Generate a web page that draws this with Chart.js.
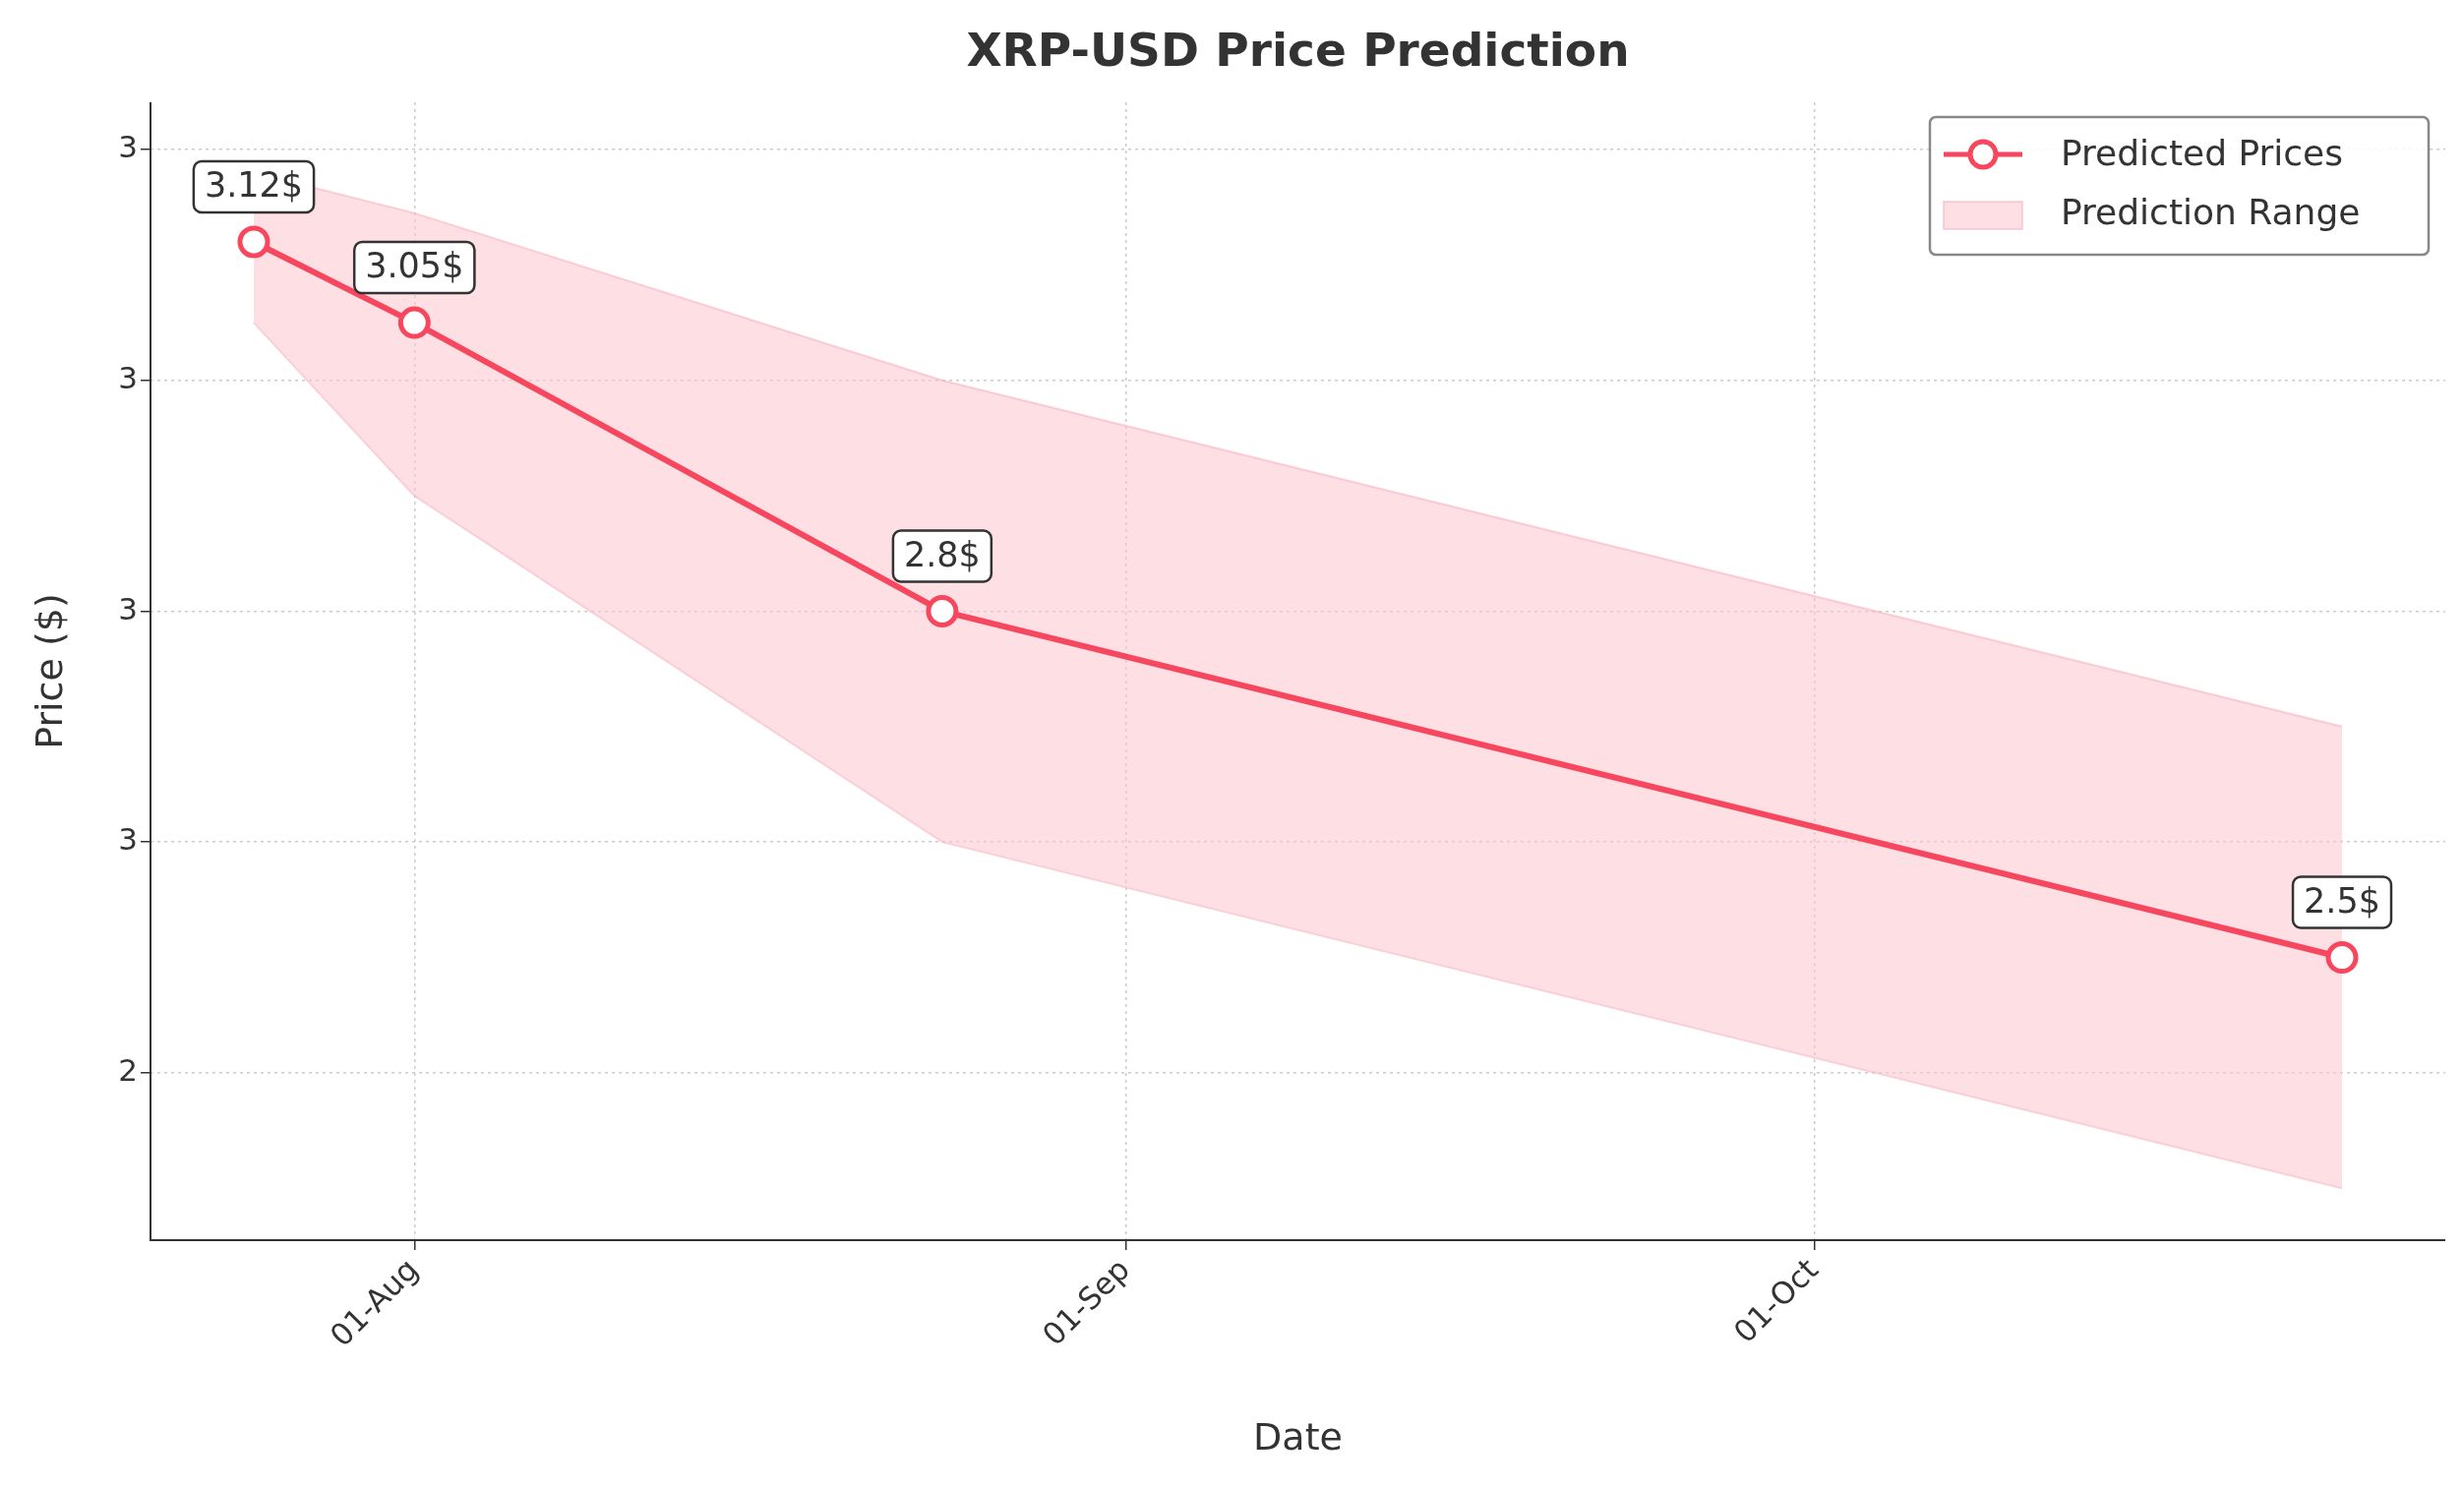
<!DOCTYPE html>
<html>
<head>
<meta charset="utf-8">
<script src="https://cdn.jsdelivr.net/npm/chart.js@4"></script>
<style>
  html, body { margin: 0; padding: 0; background: #fff; }
  #wrap { width: 2505px; height: 1513px; }
</style>
</head>
<body>
<div id="wrap"><canvas id="priceChart"></canvas></div>
<script>
// days relative to 01-Aug
const dayOffsets = [-7, 0, 23, 84];
const predicted = [3.12, 3.05, 2.8, 2.5];
const upperBound = [3.18, 3.145, 3.0, 2.70];
const lowerBound = [3.05, 2.9, 2.6, 2.30];
const priceLabels = ['3.12$', '3.05$', '2.8$', '2.5$'];
const xTickDays = [0, 31, 61];
const xTickLabels = ['01-Aug', '01-Sep', '01-Oct'];
const yTickValues = [2.4, 2.6, 2.8, 3.0, 3.2];

const LINE = '#f7475f';
const FILL = 'rgba(252, 196, 206, 0.55)';
const TEXT = '#333333';

const extras = {
    id: 'extras',
    afterDraw(chart) {
        const ctx = chart.ctx;
        const area = chart.chartArea;
        const xs = chart.scales.x, ys = chart.scales.y;

        ctx.save();
        ctx.fillStyle = TEXT;
        ctx.font = 'bold 47px "DejaVu Sans"';
        ctx.textAlign = 'center';
        ctx.textBaseline = 'middle';
        ctx.fillText('XRP-USD Price Prediction', (area.left + area.right) / 2, 55);

        // axis titles
        ctx.font = '38px "DejaVu Sans"';
        ctx.fillText('Date', (area.left + area.right) / 2, 1464);
        ctx.save();
        ctx.translate(53, (area.top + area.bottom) / 2);
        ctx.rotate(-Math.PI / 2);
        ctx.fillText('Price ($)', 0, 0);
        ctx.restore();

        // spines
        ctx.strokeStyle = TEXT;
        ctx.lineWidth = 2;
        ctx.beginPath();
        ctx.moveTo(area.left, area.top);
        ctx.lineTo(area.left, area.bottom);
        ctx.lineTo(area.right, area.bottom);
        ctx.stroke();

        // value labels
        ctx.font = '35px "DejaVu Sans"';
        predicted.forEach((v, i) => {
            const px = xs.getPixelForValue(dayOffsets[i]);
            const py = ys.getPixelForValue(v);
            const w = ctx.measureText(priceLabels[i]).width + 22;
            const h = 52;
            const cy = py - 56;
            ctx.fillStyle = '#fff';
            ctx.strokeStyle = TEXT;
            ctx.lineWidth = 2.5;
            ctx.beginPath();
            ctx.roundRect(px - w / 2, cy - h / 2, w, h, 8);
            ctx.fill();
            ctx.stroke();
            ctx.fillStyle = TEXT;
            ctx.fillText(priceLabels[i], px, cy + 1);
        });

        // legend
        const lx = 1962, ly = 119, lw = 507, lh = 140;
        ctx.fillStyle = 'rgba(255,255,255,0.85)';
        ctx.strokeStyle = '#888';
        ctx.lineWidth = 2.5;
        ctx.beginPath();
        ctx.roundRect(lx, ly, lw, lh, 6);
        ctx.fill();
        ctx.stroke();
        ctx.strokeStyle = LINE;
        ctx.lineWidth = 5;
        ctx.beginPath();
        ctx.moveTo(lx + 14, ly + 38);
        ctx.lineTo(lx + 94, ly + 38);
        ctx.stroke();
        ctx.fillStyle = '#fff';
        ctx.beginPath();
        ctx.arc(lx + 54, ly + 38, 13, 0, Math.PI * 2);
        ctx.fill();
        ctx.stroke();
        ctx.fillStyle = FILL;
        ctx.fillRect(lx + 14, ly + 86, 80, 28);
        ctx.strokeStyle = 'rgba(245,170,185,0.6)';
        ctx.lineWidth = 1.5;
        ctx.strokeRect(lx + 14, ly + 86, 80, 28);
        ctx.fillStyle = TEXT;
        ctx.textAlign = 'left';
        ctx.font = '36px "DejaVu Sans"';
        ctx.fillText('Predicted Prices', lx + 133, ly + 40);
        ctx.fillText('Prediction Range', lx + 133, ly + 100);
        ctx.restore();
    }
};

new Chart(document.getElementById('priceChart'), {
    type: 'line',
    data: {
        datasets: [
            {
                label: 'Upper',
                data: dayOffsets.map((d, i) => ({ x: d, y: upperBound[i] })),
                borderColor: 'rgba(245,170,185,0.5)',
                borderWidth: 2,
                backgroundColor: FILL,
                pointRadius: 0,
                fill: '+1',
                order: 2
            },
            {
                label: 'Lower',
                data: dayOffsets.map((d, i) => ({ x: d, y: lowerBound[i] })),
                borderColor: 'rgba(245,170,185,0.5)',
                borderWidth: 2,
                pointRadius: 0,
                fill: false,
                order: 2
            },
            {
                label: 'Predicted Prices',
                data: dayOffsets.map((d, i) => ({ x: d, y: predicted[i] })),
                borderColor: LINE,
                borderWidth: 6,
                pointRadius: 14,
                pointBorderWidth: 5,
                pointBackgroundColor: '#fff',
                pointBorderColor: LINE,
                fill: false,
                order: 1
            }
        ]
    },
    options: {
        responsive: true,
        maintainAspectRatio: false,
        animation: false,
        layout: { padding: { top: 104, right: 0, left: 0, bottom: 0 } },
        plugins: { legend: { display: false }, tooltip: { enabled: false } },
        scales: {
            x: {
                type: 'linear',
                min: -11.5,
                max: 88.5,
                afterBuildTicks: s => { s.ticks = xTickDays.map(v => ({ value: v })); },
                afterFit: s => { s.height = 252; s.paddingRight = 19; },
                ticks: {
                    callback: v => xTickLabels[xTickDays.indexOf(v)],
                    maxRotation: 45, minRotation: 45,
                    color: TEXT,
                    font: { family: 'DejaVu Sans', size: 31 }
                },
                grid: { color: '#cccccc', lineWidth: 1.5, tickColor: TEXT, tickLength: 10, drawTicks: true },
                border: { display: false, dash: [3, 4] }
            },
            y: {
                min: 2.255,
                max: 3.241,
                afterBuildTicks: s => { s.ticks = yTickValues.map(v => ({ value: v })); },
                afterFit: s => { s.width = 153; },
                ticks: {
                    callback: v => Math.round(v).toString(),
                    color: TEXT,
                    font: { family: 'DejaVu Sans', size: 31 }
                },
                grid: { color: '#cccccc', lineWidth: 1.5, tickColor: TEXT, tickLength: 10 },
                border: { display: false, dash: [3, 4] }
            }
        }
    },
    plugins: [extras]
});
</script>
</body>
</html>
